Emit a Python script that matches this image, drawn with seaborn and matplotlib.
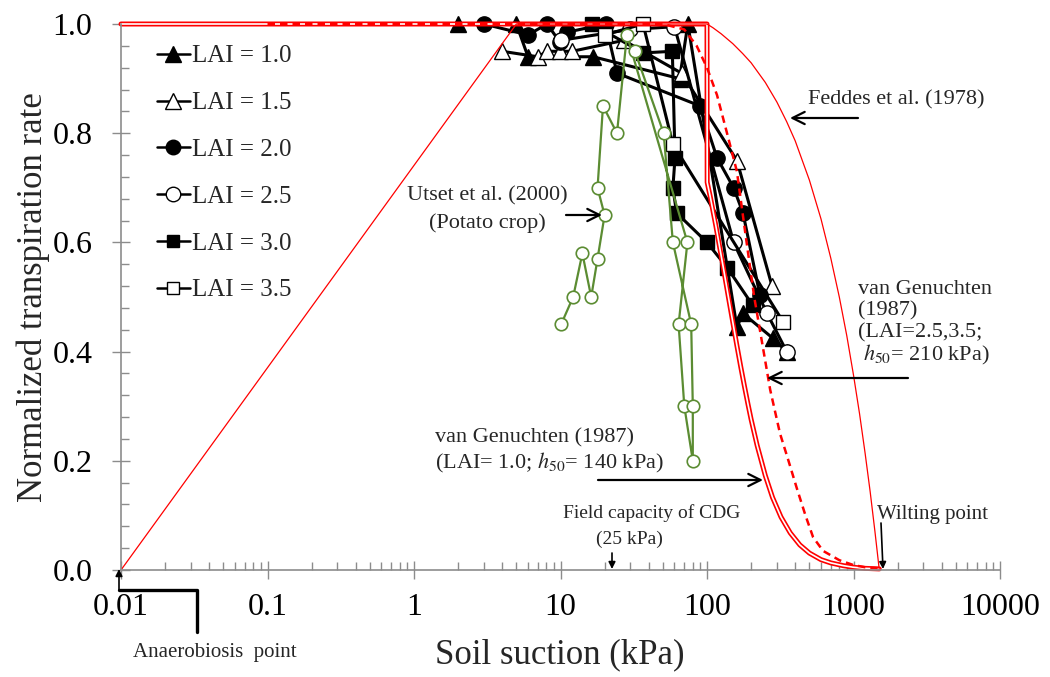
import matplotlib
matplotlib.use("Agg")
import matplotlib.pyplot as plt
import seaborn as sns
from matplotlib.lines import Line2D
from matplotlib.ticker import FixedLocator, FormatStrFormatter, LogLocator, MultipleLocator, NullFormatter

# measured series: soil suction (kPa) vs normalized transpiration rate
lai10_suction = [2, 5, 6, 16.7, 65, 74, 160, 176, 280, 350]
lai10_rate = [1.0, 1.0, 0.94, 0.94, 0.90, 1.0, 0.445, 0.47, 0.425, 0.40]
lai15_suction = [4, 7.0, 8.1, 9.9, 12, 27, 67, 160, 278]
lai15_rate = [0.95, 0.94, 0.95, 0.95, 0.95, 0.97, 0.91, 0.75, 0.52]
lai20_suction = [3, 6, 8.1, 9.9, 11.1, 20.3, 24.3, 89.6, 117, 152, 176, 230]
lai20_rate = [1.0, 0.98, 1.0, 0.967, 0.985, 1.0, 0.91, 0.85, 0.755, 0.70, 0.654, 0.503]
lai25_suction = [10, 30, 60, 152, 257, 350]
lai25_rate = [0.97, 0.99, 0.995, 0.60, 0.47, 0.40]
lai30_suction = [16.4, 36.6, 58, 60.5, 58.5, 62, 100, 138, 205]
lai30_rate = [1.0, 0.947, 0.95, 0.755, 0.70, 0.654, 0.60, 0.553, 0.485]
lai35_suction = [20, 36.6, 58.5, 330]
lai35_rate = [0.98, 1.0, 0.78, 0.455]

utset_suction = [10.1, 12.2, 14.1, 16.2, 17.9, 20.0, 17.9, 19.5, 24.3, 28.4,
                 73.5, 64.0, 70.0, 80.0, 80.0, 78.0, 58.5, 50.6, 32.2]
utset_rate = [0.45, 0.50, 0.58, 0.50, 0.57, 0.65, 0.70, 0.85, 0.80, 0.98,
              0.60, 0.45, 0.30, 0.20, 0.30, 0.45, 0.60, 0.80, 0.95]

# model curves
feddes_suction = [0.01, 5, 100, 110, 125, 150, 175, 200, 250, 300, 350, 400, 500, 600,
                  700, 800, 900, 1000, 1100, 1200, 1300, 1400, 1500]
feddes_rate = [0.0, 1.0, 1.0, 0.993, 0.982, 0.964, 0.946, 0.929, 0.893, 0.857, 0.821, 0.786,
               0.714, 0.643, 0.571, 0.5, 0.429, 0.357, 0.286, 0.214, 0.143, 0.071, 0.0]
vg140_suction = [0.01, 100, 100.3, 105, 110, 115, 120, 130, 140, 150, 160, 170, 180, 190,
                 200, 220, 250, 280, 320, 370, 430, 500, 600, 700, 850, 1000, 1200, 1500]
vg140_rate = [1.0, 1.0, 0.71, 0.685, 0.657, 0.63, 0.602, 0.55, 0.5, 0.454, 0.411, 0.372,
              0.337, 0.305, 0.276, 0.228, 0.173, 0.133, 0.097, 0.068, 0.046, 0.031, 0.019,
              0.013, 0.008, 0.005, 0.003, 0.002]
vg210_suction = [0.1, 50, 70, 85, 100, 117, 137, 160, 182, 210, 240, 270, 315, 360, 410,
                 470, 530, 620, 800, 1000, 1200, 1500]
vg210_rate = [1.0, 1.0, 0.99, 0.96, 0.92, 0.87, 0.80, 0.73, 0.62, 0.50, 0.41, 0.33, 0.25,
              0.20, 0.15, 0.10, 0.06, 0.035, 0.018, 0.009, 0.005, 0.003]

x_ticks = [0.01, 0.1, 1, 10, 100, 1000, 10000]
x_tick_labels = ["0.01", "0.1", "1", "10", "100", "1000", "10000"]

W, H = 1050, 677


def fxy(px, py):
    # image pixel (from top-left) -> figure fraction
    return (px / W, 1 - py / H)


sns.set_theme(style="ticks")
plt.rcParams["font.family"] = ["Liberation Serif", "DejaVu Serif"]
plt.rcParams["mathtext.fontset"] = "stix"

fig = plt.figure(figsize=(10.5, 6.77), dpi=100)
ax = fig.add_axes([121 / W, 1 - 570 / H, 879 / W, 546 / H])

common = dict(ax=ax, sort=False, estimator=None, clip_on=False)
series = [
    (lai10_suction, lai10_rate, "^", "black", 12, "LAI = 1.0"),
    (lai15_suction, lai15_rate, "^", "white", 12, "LAI = 1.5"),
    (lai20_suction, lai20_rate, "o", "black", 11, "LAI = 2.0"),
    (lai25_suction, lai25_rate, "o", "white", 11, "LAI = 2.5"),
    (lai30_suction, lai30_rate, "s", "black", 9.5, "LAI = 3.0"),
    (lai35_suction, lai35_rate, "s", "white", 9.5, "LAI = 3.5"),
]
handles = []
for xs, ys, marker, face, size, label in series:
    sns.lineplot(x=xs, y=ys, color="black", lw=2.2, marker=marker, ms=size,
                 mfc=face, mec="black", mew=1.0, **common)
    handles.append(Line2D([], [], color="black", lw=1.8, marker=marker, ms=size * 0.95,
                          mfc=face, mec="black", mew=1.0, label=label))

sns.lineplot(x=utset_suction, y=utset_rate, color="#5b8c32", lw=1.6, marker="o", ms=9,
             mfc="white", mec="#5b8c32", mew=1.2, **common)

# model curves on top
sns.lineplot(x=vg140_suction, y=vg140_rate, color="red", lw=3.6, **common)
sns.lineplot(x=vg140_suction, y=vg140_rate, color="white", lw=1.2, **common)
sns.lineplot(x=vg210_suction, y=vg210_rate, color="red", lw=1.8, linestyle=(0, (3, 2)), **common)
sns.lineplot(x=feddes_suction, y=feddes_rate, color="red", lw=0.9, **common)

ax.set_xscale("log")
ax.set_xlim(0.01, 10000)
ax.set_ylim(0, 1)
ax.xaxis.set_major_locator(FixedLocator(x_ticks))
ax.set_xticklabels(x_tick_labels)
ax.xaxis.set_minor_locator(LogLocator(base=10, subs=range(2, 10), numticks=20))
ax.xaxis.set_minor_formatter(NullFormatter())
ax.yaxis.set_major_locator(MultipleLocator(0.2))
ax.yaxis.set_major_formatter(FormatStrFormatter("%.1f"))
ax.yaxis.set_minor_locator(MultipleLocator(0.04))
ax.set_xlabel("")
ax.set_ylabel("")

grey = "#8c8c8c"
ax.tick_params(axis="both", which="major", direction="inout", length=13, width=1, color=grey,
               labelsize=23, labelcolor="black")
ax.tick_params(axis="x", which="major", pad=10)
ax.tick_params(axis="y", which="major", pad=14)
ax.tick_params(axis="both", which="minor", direction="in", length=5.5, width=1, color=grey)
for side in ["top", "right"]:
    ax.spines[side].set_visible(False)
for side in ["left", "bottom"]:
    ax.spines[side].set_color(grey)
    ax.spines[side].set_linewidth(1.2)

ax.legend(handles=handles, loc="upper left", bbox_to_anchor=fxy(157, 45),
          bbox_transform=fig.transFigure, frameon=False, fontsize=18,
          handlelength=1.3, handletextpad=0.12, labelspacing=0.97,
          borderpad=0, borderaxespad=0)

fig.text(*fxy(560, 655), "Soil suction (kPa)", fontsize=25, ha="center", va="center")
fig.text(*fxy(33, 297), "Normalized transpiration rate", fontsize=25, rotation=90,
         ha="center", va="center")

note = dict(fontsize=16, va="center")
fig.text(*fxy(808, 100), "Feddes et al. (1978)", ha="left", **note)
fig.text(*fxy(487, 196), "Utset et al. (2000)", ha="center", **note)
fig.text(*fxy(487, 223), "(Potato crop)", ha="center", **note)
fig.text(*fxy(435, 438), "van Genuchten (1987)", ha="left", **note)
fig.text(*fxy(435, 463), r"(LAI= 1.0; $\mathit{h}_{\mathit{50}}$= 140 kPa)", ha="left", **note)
fig.text(*fxy(858, 290), "van Genuchten", ha="left", **note)
fig.text(*fxy(858, 311), "(1987)", ha="left", **note)
fig.text(*fxy(858, 333), "(LAI=2.5,3.5;", ha="left", **note)
fig.text(*fxy(863, 355), r"$\mathit{h}_{\mathit{50}}$= 210 kPa)", ha="left", **note)
fig.text(*fxy(740, 513), "Field capacity of CDG", ha="right", fontsize=14, va="center")
fig.text(*fxy(629, 539), "(25 kPa)", ha="center", fontsize=14, va="center")
fig.text(*fxy(877, 515), "Wilting point", ha="left", fontsize=15, va="center")
fig.text(*fxy(133, 652), "Anaerobiosis  point", ha="left", fontsize=15, va="center")

open_arrow = dict(arrowstyle="->", color="black", lw=1.6, shrinkA=0, shrinkB=0, mutation_scale=22)
solid_arrow = dict(arrowstyle="-|>", color="black", lw=1.2, shrinkA=0, shrinkB=0, mutation_scale=10)
for tail, head in [((858, 118), (790, 118)), ((566, 215), (602, 215)),
                   ((908, 378), (767, 378)), ((598, 480), (763, 480))]:
    ax.annotate("", xy=fxy(*head), xytext=fxy(*tail), xycoords="figure fraction",
                textcoords="figure fraction", arrowprops=open_arrow)
for tail, head in [((612, 553), (612, 569)), ((881, 523), (883, 569)), ((119, 590), (119, 569))]:
    ax.annotate("", xy=fxy(*head), xytext=fxy(*tail), xycoords="figure fraction",
                textcoords="figure fraction", arrowprops=solid_arrow)

bx, by = zip(fxy(119, 590), fxy(197, 590), fxy(197, 632))
fig.add_artist(Line2D(bx, by, color="black", lw=2.4, transform=fig.transFigure))

fig.savefig("out.png", dpi=100)
